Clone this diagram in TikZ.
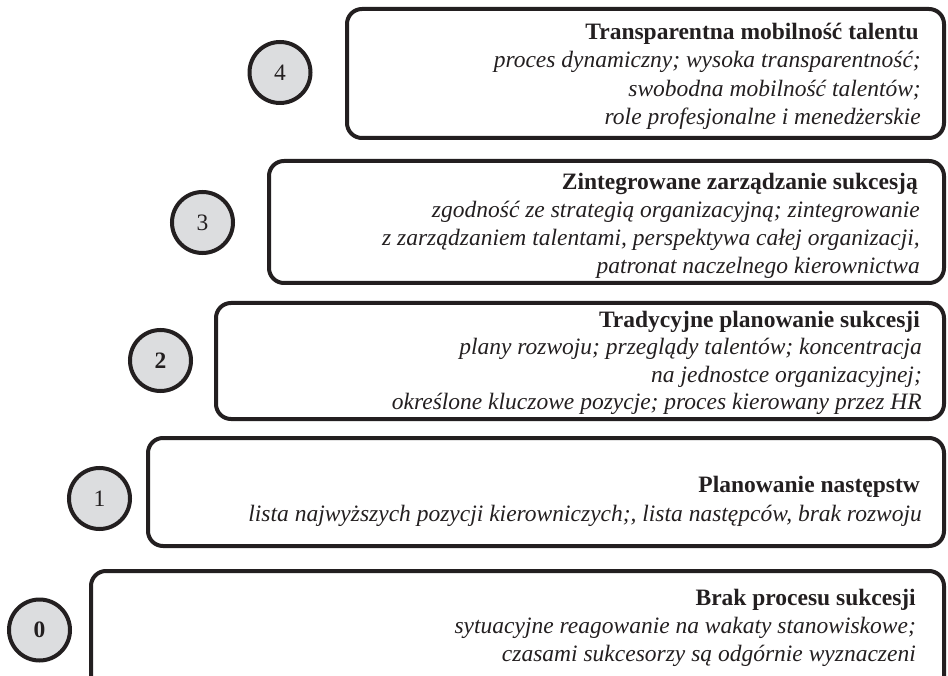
\documentclass[tikz,border=0pt]{standalone}
\usepackage{fontspec}
\setmainfont{Liberation Serif}
\definecolor{ink}{HTML}{231F20}
\definecolor{disc}{HTML}{DCDDDF}
\tikzset{
  x=1pt, y=-1pt,
  stagebox/.style={draw=ink, line width=4pt, rounded corners=15pt},
  num/.style={circle, draw=ink, line width=4pt, fill=disc, minimum size=61pt, inner sep=0pt, text=ink, font=\fontsize{23.5}{28}\selectfont},
  ttl/.style={anchor=base east, inner sep=0pt, text=ink, font=\fontsize{23.5}{28}\selectfont\bfseries},
  dsc/.style={anchor=base east, inner sep=0pt, text=ink, font=\fontsize{23.5}{28}\selectfont\itshape},
}
\begin{document}
\begin{tikzpicture}
\useasboundingbox (0,0) rectangle (948,676);
\clip (0,0) rectangle (948,676);

% boxes
\draw[stagebox] (347,9) rectangle (944,138);
\draw[stagebox] (269,161) rectangle (944,283);
\draw[stagebox] (216,303) rectangle (944,419);
\draw[stagebox] (148,438) rectangle (944,546);
\draw[stagebox] (91,571) rectangle (944,700);

% circles
\node[num, font=\fontsize{23.5}{28}\selectfont] (c4) at (280,72.5) {4};
\node[num, font=\fontsize{23.5}{28}\selectfont] (c3) at (202.5,222.5) {3};
\node[num, font=\fontsize{23.5}{28}\selectfont\bfseries] (c2) at (160.5,360.5) {2};
\node[num, font=\fontsize{23.5}{28}\selectfont] (c1) at (99.5,498.5) {1};
\node[num, font=\fontsize{23.5}{28}\selectfont\bfseries] (c0) at (39.5,630) {0};

% box 4
\node[ttl] (t4) at (919,40) {Transparentna mobilność talentu};
\node[dsc] (t4a) at (921,68) {proces dynamiczny; wysoka transparentność;};
\node[dsc] (t4b) at (921,96.5) {swobodna mobilność talentów;};
\node[dsc] (t4c) at (921,124.5) {role profesjonalne i menedżerskie};

% box 3
\node[ttl] (t3) at (918,190) {Zintegrowane zarządzanie sukcesją};
\node[dsc] (t3a) at (920,218) {zgodność ze strategią organizacyjną; zintegrowanie};
\node[dsc] (t3b) at (920,246) {z zarządzaniem talentami, perspektywa całej organizacji,};
\node[dsc] (t3c) at (920,273.5) {patronat naczelnego kierownictwa};

% box 2
\node[ttl] (t2) at (920,327) {Tradycyjne planowanie sukcesji};
\node[dsc] (t2a) at (922,355) {plany rozwoju; przeglądy talentów; koncentracja};
\node[dsc] (t2b) at (922,382) {na jednostce organizacyjnej;};
\node[dsc] (t2c) at (922,409.5) {określone kluczowe pozycje; proces kierowany przez HR};

% box 1
\node[ttl] (t1) at (920,492) {Planowanie następstw};
\node[dsc] (t1a) at (922,521) {lista najwyższych pozycji kierowniczych;, lista następców, brak rozwoju};

% box 0
\node[ttl] (t0) at (916,605) {Brak procesu sukcesji};
\node[dsc] (t0a) at (916,633) {sytuacyjne reagowanie na wakaty stanowiskowe;};
\node[dsc] (t0b) at (916,661.5) {czasami sukcesorzy są odgórnie wyznaczeni};
\end{tikzpicture}
\end{document}
